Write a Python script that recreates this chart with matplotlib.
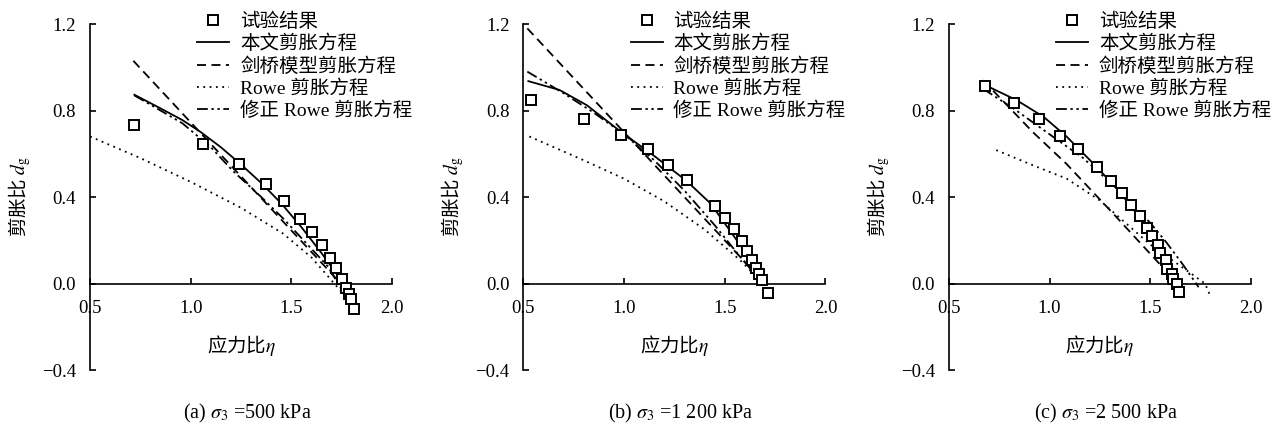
import numpy as np
import matplotlib
matplotlib.use('Agg')
import matplotlib.pyplot as plt
from matplotlib.ticker import FuncFormatter

plt.rcParams['font.family'] = ['Liberation Serif', 'Noto Sans CJK SC']
plt.rcParams['mathtext.fontset'] = 'stix'

# legend labels
labels = ['试验结果', '本文剪胀方程', '剑桥模型剪胀方程', 'Rowe 剪胀方程', '修正 Rowe 剪胀方程']
captions = [r'(a) $\sigma_3$ =500 kPa', r'(b) $\sigma_3$ =1 200 kPa', r'(c) $\sigma_3$ =2 500 kPa']

# (a) sigma3 = 500 kPa
a_exp_x = [0.72, 1.06, 1.24, 1.375, 1.465, 1.54, 1.60, 1.65, 1.69, 1.722, 1.749, 1.771, 1.787, 1.795, 1.809]
a_exp_y = [0.735, 0.643, 0.554, 0.461, 0.383, 0.30, 0.238, 0.179, 0.12, 0.073, 0.022, -0.02, -0.048, -0.071, -0.12]
a_solid_x = [0.72, 0.85, 0.96, 1.05, 1.15, 1.25, 1.35, 1.45, 1.55, 1.65, 1.72, 1.78]
a_solid_y = [0.873, 0.81, 0.755, 0.70, 0.63, 0.55, 0.465, 0.37, 0.26, 0.14, 0.05, -0.04]
a_cam_x = [0.715, 1.0, 1.25, 1.5, 1.77]
a_cam_y = [1.03, 0.745, 0.495, 0.245, -0.025]
a_rowe_x = [0.5, 0.75, 1.0, 1.25, 1.46, 1.6, 1.75]
a_rowe_y = [0.68, 0.58, 0.47, 0.35, 0.23, 0.12, -0.04]
a_mrowe_x = [0.72, 0.85, 0.96, 1.1, 1.21, 1.35, 1.46, 1.6, 1.68, 1.77]
a_mrowe_y = [0.87, 0.80, 0.74, 0.63, 0.52, 0.40, 0.30, 0.16, 0.08, -0.06]

# (b) sigma3 = 1200 kPa
b_exp_x = [0.54, 0.80, 0.985, 1.12, 1.22, 1.315, 1.45, 1.50, 1.545, 1.585, 1.61, 1.635, 1.655, 1.67, 1.685, 1.715]
b_exp_y = [0.848, 0.762, 0.686, 0.62, 0.548, 0.478, 0.358, 0.301, 0.25, 0.197, 0.15, 0.108, 0.074, 0.043, 0.015, -0.042]
b_solid_x = [0.525, 0.68, 0.815, 0.98, 1.15, 1.31, 1.43, 1.56, 1.645, 1.70]
b_solid_y = [0.936, 0.895, 0.825, 0.705, 0.59, 0.475, 0.37, 0.20, 0.093, 0.0]
b_cam_x = [0.52, 1.0, 1.5, 1.70]
b_cam_y = [1.18, 0.70, 0.20, 0.0]
b_rowe_x = [0.53, 0.8, 1.0, 1.2, 1.4, 1.58, 1.69]
b_rowe_y = [0.68, 0.57, 0.485, 0.38, 0.25, 0.105, 0.0]
b_mrowe_x = [0.52, 0.7, 0.85, 1.0, 1.15, 1.3, 1.45, 1.58, 1.69]
b_mrowe_y = [0.98, 0.88, 0.79, 0.69, 0.57, 0.43, 0.27, 0.12, 0.0]

# (c) sigma3 = 2500 kPa
c_exp_x = [0.68, 0.823, 0.947, 1.051, 1.139, 1.237, 1.303, 1.358, 1.404, 1.449, 1.482, 1.51,
           1.54, 1.548, 1.576, 1.581, 1.606, 1.614, 1.631, 1.644]
c_exp_y = [0.913, 0.833, 0.759, 0.683, 0.62, 0.54, 0.475, 0.42, 0.362, 0.312, 0.255, 0.219,
           0.177, 0.139, 0.111, 0.069, 0.046, 0.023, 0.0, -0.039]
c_solid_x = [0.67, 0.836, 0.97, 1.085, 1.217, 1.333, 1.465, 1.565, 1.64]
c_solid_y = [0.922, 0.848, 0.771, 0.679, 0.555, 0.44, 0.285, 0.123, 0.0]
c_cam_x = [0.67, 0.917, 1.083, 1.316, 1.606]
c_cam_y = [0.94, 0.70, 0.554, 0.323, 0.03]
c_rowe_x = [0.735, 0.919, 1.085, 1.25, 1.5, 1.772, 1.80]
c_rowe_y = [0.617, 0.546, 0.485, 0.384, 0.18, 0.0, -0.063]
c_mrowe_x = [0.67, 0.82, 1.0, 1.167, 1.333, 1.5, 1.58, 1.66, 1.74]
c_mrowe_y = [0.90, 0.81, 0.69, 0.58, 0.44, 0.28, 0.19, 0.09, -0.017]

panels = [
    (a_exp_x, a_exp_y, a_solid_x, a_solid_y, a_cam_x, a_cam_y, a_rowe_x, a_rowe_y, a_mrowe_x, a_mrowe_y),
    (b_exp_x, b_exp_y, b_solid_x, b_solid_y, b_cam_x, b_cam_y, b_rowe_x, b_rowe_y, b_mrowe_x, b_mrowe_y),
    (c_exp_x, c_exp_y, c_solid_x, c_solid_y, c_cam_x, c_cam_y, c_rowe_x, c_rowe_y, c_mrowe_x, c_mrowe_y),
]


def fmt(v, pos):
    return '{:.1f}'.format(v).replace('-', '\u2212')


fig = plt.figure(figsize=(12.72, 4.25), dpi=100)
lefts = [0.0708, 0.4114, 0.746]

for i, p in enumerate(panels):
    ex, ey, sx, sy, cx, cy, rx, ry, mx, my = p
    ax = fig.add_axes([lefts[i], 0.1294, 0.2375, 0.814])
    ax.plot(ex, ey, 's', ms=7, mfc='white', mec='black', mew=1.4, ls='none', label=labels[0], zorder=5)
    ax.plot(sx, sy, '-', color='black', lw=1.3, label=labels[1])
    ax.plot(cx, cy, color='black', lw=1.3, dashes=(5, 3), label=labels[2])
    ax.plot(rx, ry, color='black', lw=1.3, dashes=(1, 2.5), label=labels[3])
    ax.plot(mx, my, color='black', lw=1.3, dashes=(6, 2, 1.3, 2, 1.3, 2), label=labels[4])

    ax.set_xlim(0.5, 2.0)
    ax.set_ylim(-0.4, 1.2)
    ax.set_xticks([0.5, 1.0, 1.5, 2.0])
    ax.set_yticks([-0.4, 0.0, 0.4, 0.8, 1.2])
    ax.xaxis.set_major_formatter(FuncFormatter(fmt))
    ax.yaxis.set_major_formatter(FuncFormatter(fmt))
    ax.spines['top'].set_visible(False)
    ax.spines['right'].set_visible(False)
    ax.spines['bottom'].set_position(('data', 0))
    ax.spines['left'].set_linewidth(1.2)
    ax.spines['bottom'].set_linewidth(1.2)
    ax.tick_params(axis='x', direction='in', length=4, width=1.2, pad=12, labelsize=13.5)
    ax.tick_params(axis='y', direction='in', length=4, width=1.2, pad=10, labelsize=13.5)

    ax.set_xlabel(r'应力比$\eta$', fontsize=14, family='Noto Sans CJK SC', va='center')
    ax.xaxis.set_label_coords(0.5, 0.07)
    ax.set_ylabel(r'剪胀比 $d_{\mathrm{g}}$', fontsize=14, family='Noto Sans CJK SC')
    ax.yaxis.set_label_coords(-0.19, 0.5)

    ax.legend(loc='upper left', bbox_to_anchor=(0.355, 1.034), frameon=False, fontsize=14,
              handlelength=1.65, handletextpad=0.55, labelspacing=0.2, borderpad=0, borderaxespad=0)

    fig.text(lefts[i] + 0.2375 / 2 + 0.005, 0.026, captions[i], ha='center', va='center', fontsize=14.5)

fig.savefig('out.png', dpi=100)
